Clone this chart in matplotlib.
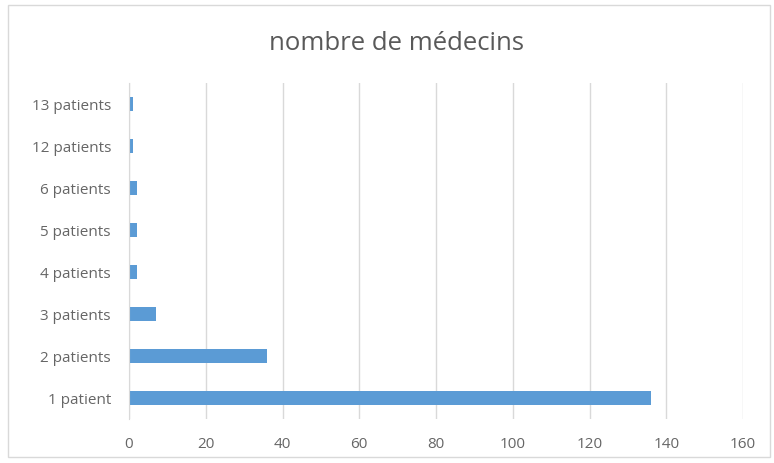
import matplotlib.pyplot as plt
from matplotlib.patches import Rectangle

categories = ["1 patient", "2 patients", "3 patients", "4 patients",
              "5 patients", "6 patients", "12 patients", "13 patients"]
values = [136, 36, 7, 2, 2, 2, 1, 1]
x_ticks = [0, 20, 40, 60, 80, 100, 120, 140, 160]

plt.rcParams["font.family"] = ["Open Sans", "DejaVu Sans"]

fig = plt.figure(figsize=(7.74, 4.64), dpi=100)
ax = fig.add_axes([129 / 774, 44 / 464, 614 / 774, 336 / 464])

# outer chart border like Excel
fig.patches.append(Rectangle((8 / 774, 6 / 464), 762 / 774, 452 / 464, transform=fig.transFigure,
                             fill=False, edgecolor="#D9D9D9", linewidth=1))

ypos = range(len(categories))
ax.barh(ypos, values, height=0.33, color="#5B9BD5")

ax.set_xlim(0, 160)
ax.set_ylim(-0.5, len(categories) - 0.5)
ax.set_xticks(x_ticks)
ax.set_yticks(list(ypos))
ax.set_yticklabels(categories)
ax.tick_params(length=0, labelsize=11, colors="#666666")
ax.tick_params(axis="x", pad=12)
ax.tick_params(axis="y", pad=13)

ax.grid(axis="x", color="#D9D9D9", linewidth=1)
ax.set_axisbelow(True)
for side in ["top", "right", "bottom"]:
    ax.spines[side].set_visible(False)
ax.spines["left"].set_color("#D9D9D9")

fig.text(397 / 774, 1 - 44 / 464, "nombre de médecins", ha="center", va="center",
         fontsize=18.5, color="#595959")

plt.savefig("out.png", dpi=100)
